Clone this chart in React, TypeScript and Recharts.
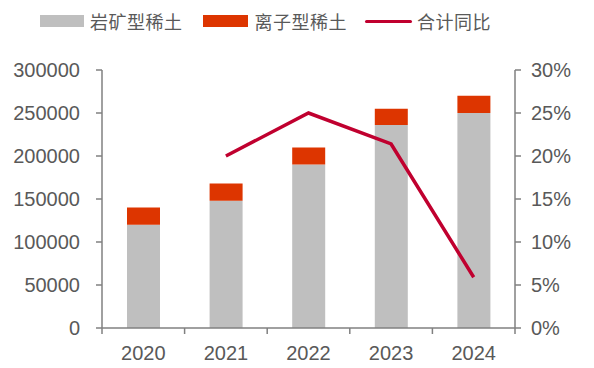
import { ComposedChart, Bar, Line, XAxis, YAxis } from 'recharts';

const years = ['2020', '2021', '2022', '2023', '2024'];
const rockType = [120000, 148000, 190000, 236000, 250000];
const ionType = [20000, 20000, 20000, 19000, 20000];
const totalYoY = [null, 20, 25, 21.4, 5.9];
const leftTicks = [0, 50000, 100000, 150000, 200000, 250000, 300000];
const rightTicks = [0, 5, 10, 15, 20, 25, 30];

const data = years.map((y, i) => ({
  year: y,
  rock: rockType[i],
  ion: ionType[i],
  yoy: totalYoY[i],
}));

const AXIS = '#808080';
const TEXT = '#595959';
const GRAY = '#BFBFBF';
const ORANGE = '#DD3500';
const CRIMSON = '#C0002F';

const YearTick = (props: any) => {
  const { x, y, payload, index } = props;
  const band = 413 / years.length;
  return (
    <g>
      <line x1={x - band / 2} y1={y - 8} x2={x - band / 2} y2={y - 2} stroke={AXIS} strokeWidth={1.5} />
      {index === years.length - 1 && (
        <line x1={x + band / 2} y1={y - 8} x2={x + band / 2} y2={y - 2} stroke={AXIS} strokeWidth={1.5} />
      )}
      <text x={x} y={y + 24} textAnchor="middle" fill={TEXT} fontSize={20} fontFamily="'Liberation Sans', Arial, sans-serif">
        {payload.value}
      </text>
    </g>
  );
};

const LegendRow = () => {
  const font = { fontSize: 18, color: TEXT, fontFamily: "'Noto Sans CJK SC', sans-serif", letterSpacing: 0.5 };
  return (
    <div style={{ position: 'absolute', top: 8, left: 40, display: 'flex', alignItems: 'center', whiteSpace: 'nowrap', ...font }}>
      <span style={{ display: 'inline-block', width: 44, height: 12, background: GRAY, marginRight: 6 }} />
      <span style={{ marginRight: 20 }}>岩矿型稀土</span>
      <span style={{ display: 'inline-block', width: 45, height: 12, background: ORANGE, marginRight: 7 }} />
      <span style={{ marginRight: 18 }}>离子型稀土</span>
      <span style={{ display: 'inline-block', width: 47, height: 3, background: CRIMSON, borderRadius: 2, marginRight: 5 }} />
      <span>合计同比</span>
    </div>
  );
};

export default function App() {
  return (
    <div style={{ position: 'absolute', left: 0, top: 0, width: 594, height: 368, background: '#fff' }}>
      <LegendRow />
      <ComposedChart
        width={594}
        height={368}
        data={data}
        margin={{ top: 70, right: 0, bottom: 0, left: 0 }}
        barSize={33}
      >
        <XAxis
          dataKey="year"
          height={40}
          axisLine={{ stroke: AXIS, strokeWidth: 1.5 }}
          tickLine={false}
          tick={<YearTick />}
          interval={0}
        />
        <YAxis
          yAxisId="left"
          width={102}
          domain={[0, 300000]}
          ticks={leftTicks}
          axisLine={{ stroke: AXIS, strokeWidth: 1.5 }}
          tickLine={{ stroke: AXIS, strokeWidth: 1.5 }}
          tickSize={6}
          tick={{ fill: TEXT, fontSize: 20, fontFamily: "'Liberation Sans', Arial, sans-serif" }}
          tickMargin={16}
          interval={0}
        />
        <YAxis
          yAxisId="right"
          orientation="right"
          width={79}
          domain={[0, 30]}
          ticks={rightTicks}
          tickFormatter={(v) => `${v}%`}
          axisLine={{ stroke: AXIS, strokeWidth: 1.5 }}
          tickLine={{ stroke: AXIS, strokeWidth: 1.5 }}
          tickSize={6}
          tick={{ fill: TEXT, fontSize: 20, fontFamily: "'Liberation Sans', Arial, sans-serif" }}
          tickMargin={10}
          interval={0}
        />
        <Bar yAxisId="left" dataKey="rock" stackId="a" fill={GRAY} isAnimationActive={false} />
        <Bar yAxisId="left" dataKey="ion" stackId="a" fill={ORANGE} isAnimationActive={false} />
        <Line
          yAxisId="right"
          dataKey="yoy"
          stroke={CRIMSON}
          strokeWidth={3.5}
          dot={false}
          activeDot={false}
          connectNulls={false}
          isAnimationActive={false}
        />
      </ComposedChart>
    </div>
  );
}
